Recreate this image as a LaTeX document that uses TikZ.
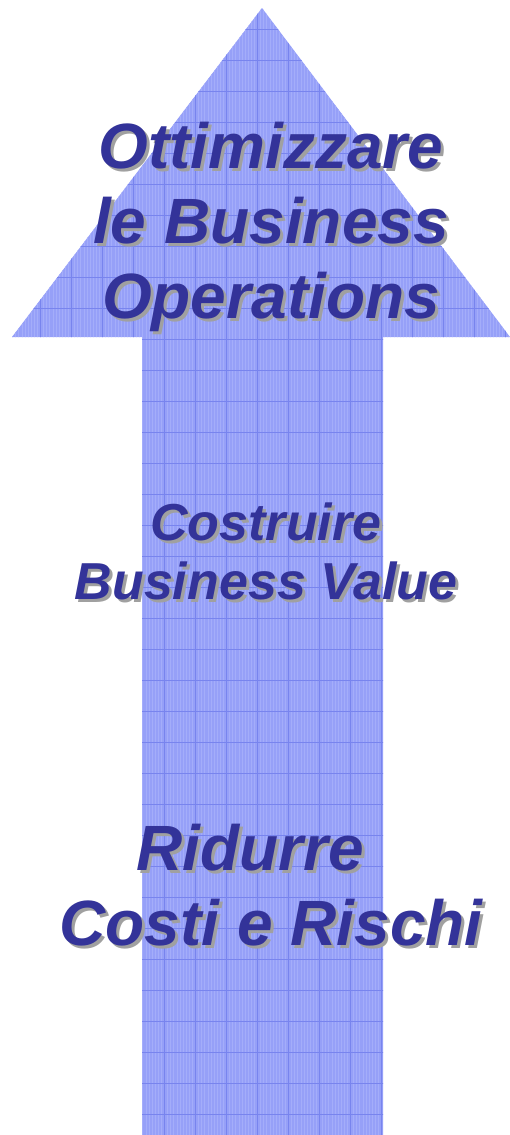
\documentclass[tikz,border=0pt]{standalone}
\usepackage{fontspec}
\setmainfont{Liberation Sans}
\usepackage{xcolor}

\definecolor{arrowfill}{RGB}{150,160,248}
\definecolor{gridmajor}{RGB}{120,132,238}
\definecolor{gridminor}{RGB}{164,173,250}
\definecolor{textnavy}{RGB}{51,51,153}
\definecolor{textshadow}{RGB}{160,160,160}

% one line of text with its grey drop shadow
\newcommand{\shadowline}[1]{%
  \rlap{\hspace*{3pt}\raisebox{-3pt}{\textcolor{textshadow}{#1}}}#1}

\tikzset{
  goaltext/.style={align=center,inner sep=0pt,text=textnavy},
  bigline/.style={font=\fontsize{64}{75}\selectfont\bfseries\itshape},
  midline/.style={font=\fontsize{52}{59}\selectfont\bfseries\itshape}
}

\begin{document}
\begin{tikzpicture}[x=1pt,y=-1pt]
  \useasboundingbox (0,0) rectangle (510,1135);
  % arrow outline
  \path[save path=\arrowpath] (262,8) -- (510,337) -- (383,337) -- (383,1135)
    -- (142,1135) -- (142,337) -- (12,337) -- cycle;
  \fill[arrowfill,use path=\arrowpath];
  \begin{scope}
    \clip[use path=\arrowpath];
    \draw[gridminor,line width=.3pt,step=3.1] (0,0) grid (510,1135);
    \foreach \x in {0,...,16}{
      \draw[gridmajor,line width=.8pt] (9+\x*31,0) -- (9+\x*31,1135);
    }
    \foreach \y in {0,...,36}{
      \draw[gridmajor,line width=.8pt] (0,29+\y*31) -- (510,29+\y*31);
    }
  \end{scope}
  % goals, bottom to top
  \node[goaltext,bigline] (costi) at (271,887)
    {\shadowline{Ridurre\hspace*{.65em}}\\\shadowline{Costi e Rischi}};
  \node[goaltext,midline] (value) at (266,553)
    {\shadowline{Costruire}\\\shadowline{Business Value}};
  \node[goaltext,bigline] (oper) at (271,228)
    {\shadowline{Ottimizzare}\\\shadowline{le Business}\\\shadowline{Operations}};
\end{tikzpicture}
\end{document}
